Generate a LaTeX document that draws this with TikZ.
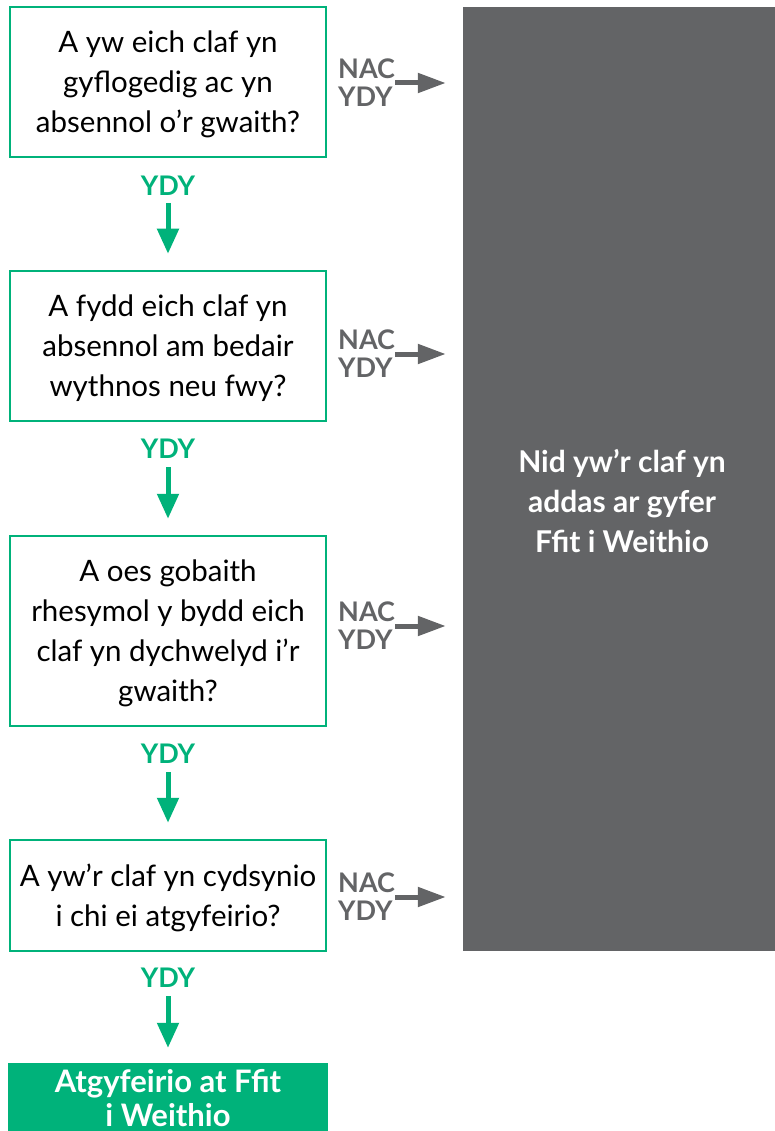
\documentclass[tikz,border=0pt]{standalone}
\usepackage{fontspec}
\setmainfont{Lato}
\usetikzlibrary{arrows.meta}
\definecolor{nhsgreen}{HTML}{00B27A}
\definecolor{darkgrey}{HTML}{636466}
\begin{document}
\begin{tikzpicture}[x=1pt,y=-1pt,
  qbox/.style={draw=nhsgreen, line width=2.5pt, fill=white, minimum width=316pt,
    align=center, font=\fontsize{29.5}{40}\selectfont, inner sep=0pt, text=black,
    text depth=0pt},
  endbox/.style={fill=nhsgreen, minimum width=320pt, align=center,
    font=\bfseries\fontsize{31}{34}\selectfont, inner sep=0pt, text=white},
  greybox/.style={fill=darkgrey, minimum width=312pt, minimum height=944pt, inner sep=0pt},
  greytext/.style={align=center, font=\bfseries\fontsize{30}{40}\selectfont, inner sep=0pt, text=white},
  ylab/.style={text=nhsgreen, font=\bfseries\fontsize{27}{28}\selectfont, inner sep=0pt},
  nlab/.style={text=darkgrey, font=\bfseries\fontsize{27}{28}\selectfont, align=left,
    anchor=west, inner sep=0pt},
  garrow/.style={draw=nhsgreen, line width=5pt, -{Triangle[length=25pt,width=21pt]}},
  grarrow/.style={draw=darkgrey, line width=5pt, -{Triangle[length=28pt,width=19pt]}, shorten >=17pt}
]
\useasboundingbox (0,0) rectangle (775,1131);

\node[greybox] (grey) at (619,479) {};
\node[greytext] (gt) at (622,501) {Nid yw’r claf yn\\addas ar gyfer\\Ffit i Weithio};

\node[qbox, minimum height=150pt] (b1) at (168,82) {A yw eich claf yn\\gyflogedig ac yn\\absennol o’r gwaith?};
\node[qbox, minimum height=150pt] (b2) at (168,346) {A fydd eich claf yn\\absennol am bedair\\wythnos neu fwy?};
\node[qbox, minimum height=190pt] (b3) at (168,631) {A oes gobaith\\rhesymol y bydd eich\\claf yn dychwelyd i’r\\gwaith?};
\node[qbox, minimum height=111pt] (b4) at (168,895.5) {A yw’r claf yn cydsynio\\i chi ei atgyfeirio?};
\node[endbox, minimum height=70pt] (b5) at (168,1098) {Atgyfeirio at Ffit\\i Weithio};

\node[ylab] (y1) at (168,186) {YDY};
\node[ylab] (y2) at (168,449) {YDY};
\node[ylab] (y3) at (168,754) {YDY};
\node[ylab] (y4) at (168,978) {YDY};

\draw[garrow] ([yshift=-17pt]y1.center) -- ([yshift=16pt]b2.north);
\draw[garrow] ([yshift=-18pt]y2.center) -- ([yshift=16pt]b3.north);
\draw[garrow] ([yshift=-18pt]y3.center) -- ([yshift=16pt]b4.north);
\draw[garrow] ([yshift=-18pt]y4.center) -- ([yshift=15pt]b5.north);

\node[nlab] (n1) at (338,83) {NAC\\YDY};
\node[nlab] (n2) at (338,354) {NAC\\YDY};
\node[nlab] (n3) at (338,626) {NAC\\YDY};
\node[nlab] (n4) at (338,897) {NAC\\YDY};

\draw[grarrow] (n1.east) -- (n1.east -| grey.west);
\draw[grarrow] (n2.east) -- (n2.east -| grey.west);
\draw[grarrow] (n3.east) -- (n3.east -| grey.west);
\draw[grarrow] (n4.east) -- (n4.east -| grey.west);
\end{tikzpicture}
\end{document}
